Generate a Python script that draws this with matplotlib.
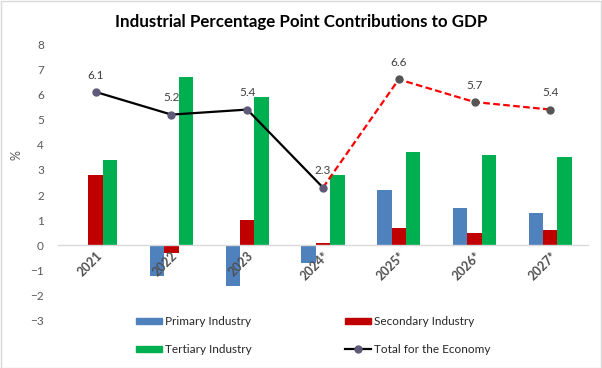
import numpy as np
import matplotlib
matplotlib.use("Agg")
from matplotlib import pyplot as plt
from matplotlib.lines import Line2D
from matplotlib.patches import Patch

plt.rcParams['font.family'] = ['Lato', 'DejaVu Sans']

years = ['2021', '2022', '2023', '2024*', '2025*', '2026*', '2027*']
primary = [0.0, -1.2, -1.6, -0.7, 2.2, 1.5, 1.3]
secondary = [2.8, -0.3, 1.0, 0.1, 0.7, 0.5, 0.6]
tertiary = [3.4, 6.7, 5.9, 2.8, 3.7, 3.6, 3.5]
total = [6.1, 5.2, 5.4, 2.3, 6.6, 5.7, 5.4]
n_actual = 4  # 2021-2024* solid, then dashed forecast

fig = plt.figure(figsize=(6.02, 3.68), dpi=100)
ax = fig.add_axes([0.096, 0.128, 0.881, 0.752])

# spine first: moving it resets the ticks
for s in ['top', 'right', 'left']:
    ax.spines[s].set_visible(False)
ax.spines['bottom'].set_position(('data', 0))
ax.spines['bottom'].set_color('#d9d9d9')
ax.spines['bottom'].set_linewidth(1)

x = np.arange(len(years))
w = 0.19
ax.bar(x - w, primary, w, color='#4f81bd', zorder=2)
ax.bar(x, secondary, w, color='#c00000', zorder=2)
ax.bar(x + w, tertiary, w, color='#00b050', zorder=2)

ax.plot(x[:n_actual], total[:n_actual], color='black', lw=1.6, zorder=3)
ax.plot(x[n_actual - 1:], total[n_actual - 1:], color='#ff0000', lw=1.6,
        ls=(0, (3, 1.5)), zorder=3)
ax.plot(x[:n_actual], total[:n_actual], 'o', color='#5f5a78', ms=5, zorder=4)
ax.plot(x[n_actual:], total[n_actual:], 'o', color='#555555', ms=5, zorder=4)

for xi, v in zip(x, total):
    ax.annotate(f'{v:.1f}', (xi, v), xytext=(0, 8), textcoords='offset points',
                ha='center', va='bottom', fontsize=8.5, color='#404040')

ax.set_xlim(-0.5, len(years) - 0.5)
ax.set_ylim(-3, 8)
ax.set_yticks(range(-3, 9))
ax.tick_params(axis='y', length=0, labelsize=8.5, labelcolor='#595959', pad=10)
ax.set_xticks(x)
ax.tick_params(axis='x', length=0, pad=3)
ax.set_xticklabels(years, rotation=45, ha='right', va='top', rotation_mode='anchor',
                   fontsize=9, color='#505050', fontweight='bold')
ax.xaxis.set_zorder(5)  # year labels sit on top of the negative bars

ax.set_ylabel('%', fontsize=9, color='#595959')
ax.yaxis.set_label_coords(-0.066, 0.6)

fig.suptitle('Industrial Percentage Point Contributions to GDP', x=0.5, y=0.94,
             va='center', fontsize=12.2, fontweight='bold', color='black')

handles = [Patch(color='#4f81bd'), Patch(color='#c00000'),
           Patch(color='#00b050'),
           Line2D([], [], color='black', lw=1.6, marker='o', ms=5,
                  markerfacecolor='#5f5a78', markeredgecolor='#5f5a78')]
labels = ['Primary Industry', 'Secondary Industry', 'Tertiary Industry',
          'Total for the Economy']
fig.legend([handles[0], handles[2], handles[1], handles[3]],
           [labels[0], labels[2], labels[1], labels[3]],
           ncol=2, loc='upper left', bbox_to_anchor=(136 / 602, 1 - 316 / 368),
           borderpad=0, borderaxespad=0, frameon=False,
           fontsize=8.5, labelcolor='#262626', handlelength=2.2, handleheight=0.4,
           handletextpad=0.25, columnspacing=7.9, labelspacing=1.42)

fig.patches.append(plt.Rectangle((0.001, 0.001), 0.997, 0.997, transform=fig.transFigure,
                                 fill=False, edgecolor='#d9d9d9', lw=1))

fig.savefig('out.png', dpi=100)
